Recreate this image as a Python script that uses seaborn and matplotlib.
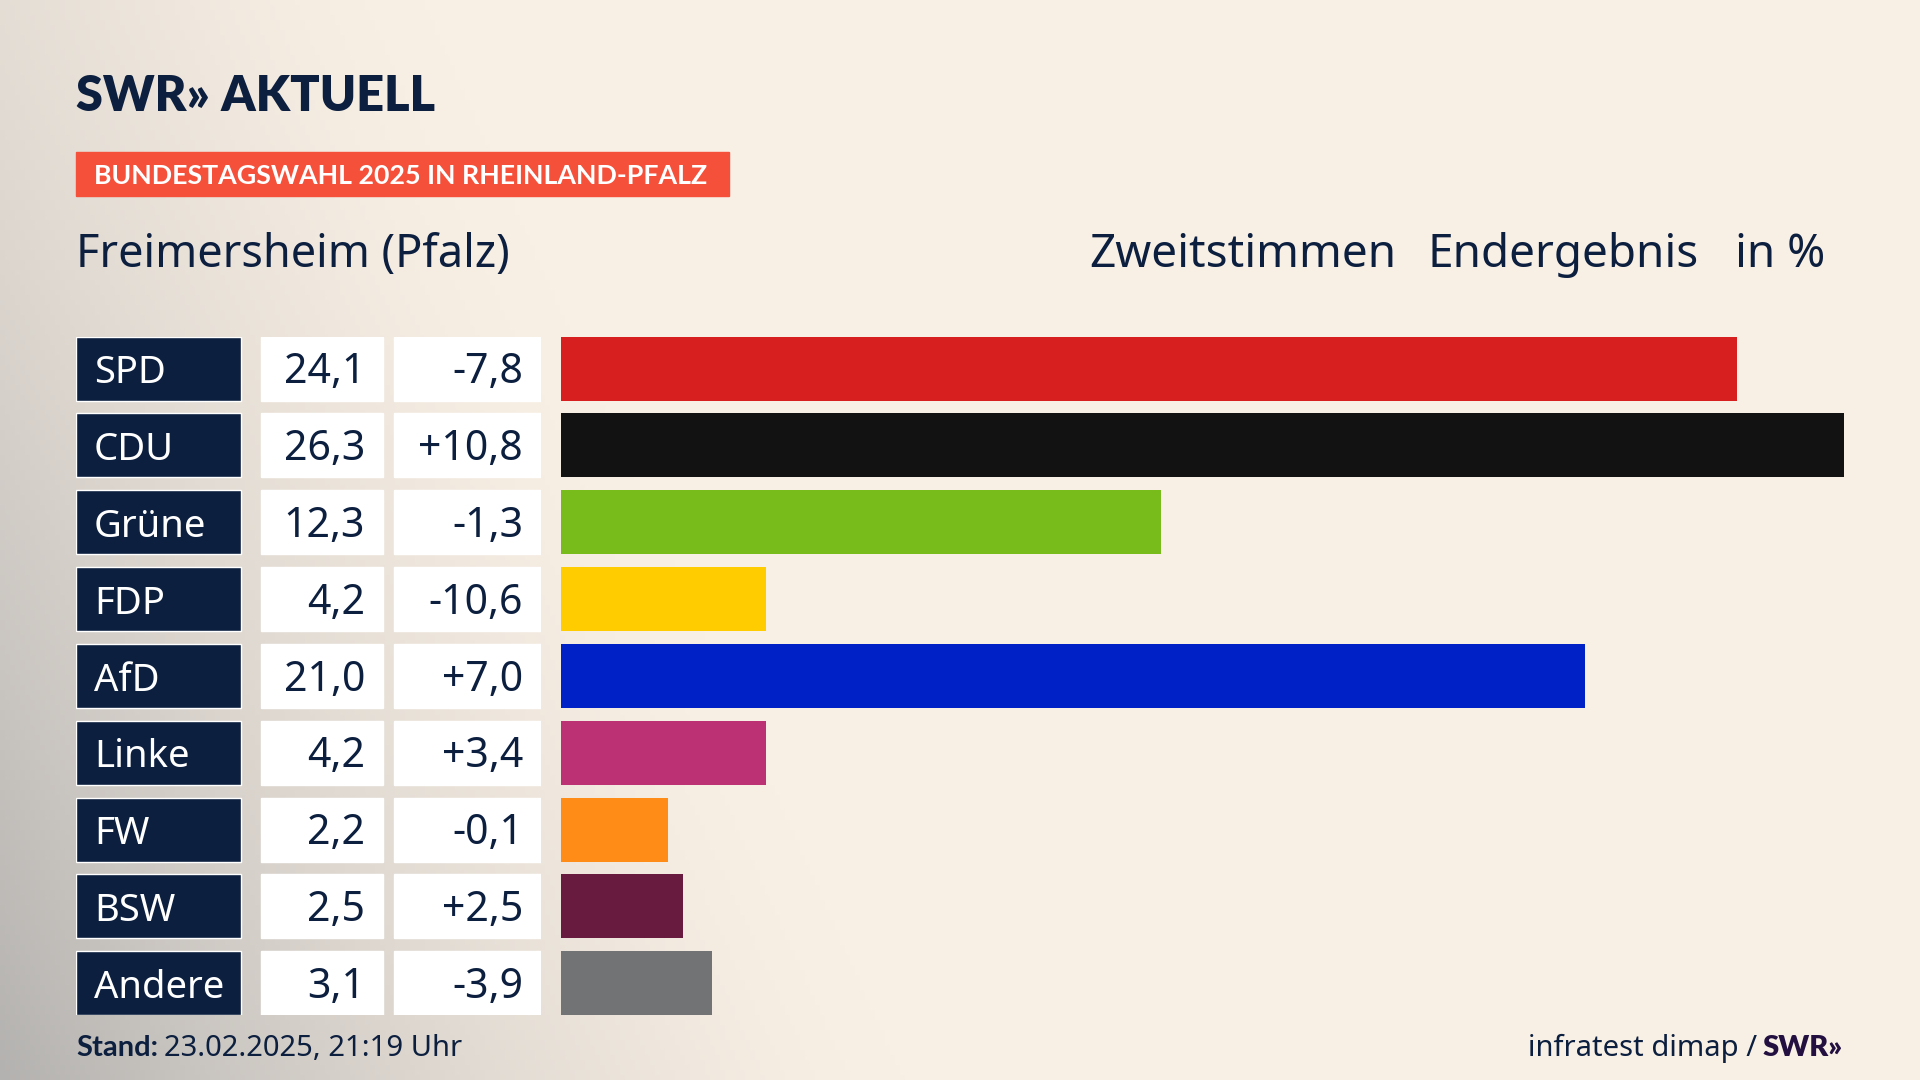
import numpy as np
import pandas as pd
import matplotlib.pyplot as plt
import seaborn as sns
from matplotlib.patches import Rectangle

# Daten
parteien = ['SPD', 'CDU', 'Grüne', 'FDP', 'AfD', 'Linke', 'FW', 'BSW', 'Andere']
anteile = [24.1, 26.3, 12.3, 4.2, 21.0, 4.2, 2.2, 2.5, 3.1]
diffs = [-7.8, 10.8, -1.3, -10.6, 7.0, 3.4, -0.1, 2.5, -3.9]
farben = ['#D81F1F', '#121212', '#78BC1B', '#FFCC00', '#0021C6',
          '#BC3173', '#FF8C16', '#681A3F', '#727375']

titel = 'Freimersheim (Pfalz)'
banner = 'BUNDESTAGSWAHL 2025 IN RHEINLAND-PFALZ'
stand = '23.02.2025, 21:19 Uhr'

NAVY = '#0C1F3F'
W, H = 1920, 1080
FETT = ['Lato', 'DejaVu Sans']

sns.set_style('white')
plt.rcParams['font.family'] = ['Noto Sans', 'DejaVu Sans']


def fx(x):
    return x / W


def fy(y):
    return 1 - y / H


def de(v, sign=False):
    s = f'{v:+.1f}' if sign else f'{v:.1f}'
    return s.replace('.', ',')


df = pd.DataFrame({'partei': parteien, 'anteil': anteile})

fig = plt.figure(figsize=(19.2, 10.8), dpi=100)

# Hintergrund mit grauem Verlauf links unten
yy, xx = np.mgrid[0:1:216j, 0:1:384j]
ausdehnung = 0.22 + 0.25 * yy
w = np.clip(1 - xx / ausdehnung, 0, 1) ** 1.4
g = w * (0.3 + 0.7 * yy ** 1.2)
creme = np.array([249, 240, 229]) / 255
grau = np.array([180, 178, 176]) / 255
img = creme * (1 - g[..., None]) + grau * g[..., None]
bg = fig.add_axes([0, 0, 1, 1], zorder=-10)
bg.imshow(img, aspect='auto', extent=[0, 1, 0, 1], origin='upper')
bg.axis('off')

# Zeilenlayout
top, bottom = 336.7, 1015.1
n = len(parteien)
pitch = (bottom - top - 64) / (n - 1)
balken_h = 64 / pitch
ylim = (n - 1 + balken_h / 2, -balken_h / 2)
ax_bottom = (H - bottom) / H
ax_height = (bottom - top) / H

# Balken
ax = fig.add_axes([fx(561), ax_bottom, fx(1844 - 561), ax_height])
ax.set_facecolor('none')
sns.barplot(data=df, x='anteil', y='partei', hue='partei', palette=farben,
            width=balken_h, saturation=1, legend=False, ax=ax, linewidth=0)
ax.set_xlim(0, max(anteile))
ax.set_ylim(*ylim)
ax.axis('off')

# Tabelle links
tab = fig.add_axes([fx(76), ax_bottom, fx(541 - 76), ax_height])
tab.set_facecolor('none')
pos = np.arange(n)
tab.barh(pos, 165, left=76, height=balken_h, color=NAVY)
tab.barh(pos, 122, left=261, height=balken_h, color='white')
tab.barh(pos, 147, left=394, height=balken_h, color='white')
tab.set_xlim(76, 541)
tab.set_ylim(*ylim)
tab.axis('off')

gr = 29.5
cap = 0.714 * gr * 100 / 72 / 2 / pitch
for i, (p, a, d) in enumerate(zip(parteien, anteile, diffs)):
    tab.text(94, i + cap, p, color='white', fontsize=27.5, va='baseline', ha='left')
    tab.text(365, i + cap, de(a), color=NAVY, fontsize=gr, va='baseline', ha='right')
    tab.text(523, i + cap, de(d, sign=(d > 0)), color=NAVY, fontsize=gr,
             va='baseline', ha='right')

# Kopfzeile
fig.text(fx(76), fy(111), 'SWR» AKTUELL', color=NAVY, fontsize=35,
         family=FETT, fontweight='heavy', va='baseline')
fig.patches.append(Rectangle((fx(76), fy(196)), fx(729 - 76), 44 / H,
                             transform=fig.transFigure, color='#F5503A', zorder=1))
fig.text(fx(94), fy(184), banner, color='white', fontsize=19.3, family=FETT,
         fontweight='bold', va='baseline', zorder=2)
fig.text(fx(76), fy(267), titel, color=NAVY, fontsize=32.5, va='baseline')
fig.text(fx(1089), fy(267), 'Zweitstimmen', color=NAVY, fontsize=33, va='baseline')
fig.text(fx(1428), fy(267), 'Endergebnis', color=NAVY, fontsize=33, va='baseline')
fig.text(fx(1825), fy(267), 'in %', color=NAVY, fontsize=33, va='baseline', ha='right')

# Fusszeile
r = fig.canvas.get_renderer()
t1 = fig.text(fx(76), fy(1056), 'Stand:', color=NAVY, fontsize=21,
              family=FETT, fontweight='bold', va='baseline')
bb = t1.get_window_extent(renderer=r)
fig.text(bb.x1 / W + fx(6), fy(1056), stand, color=NAVY, fontsize=21, va='baseline')

t2 = fig.text(fx(1843), fy(1056), 'SWR»', color='#231040', fontsize=21,
              family=FETT, fontweight='heavy', va='baseline', ha='right')
bb2 = t2.get_window_extent(renderer=r)
fig.text(bb2.x0 / W - fx(6), fy(1056), 'infratest dimap /', color=NAVY, fontsize=21,
         va='baseline', ha='right')

fig.savefig('out.png', dpi=100)
